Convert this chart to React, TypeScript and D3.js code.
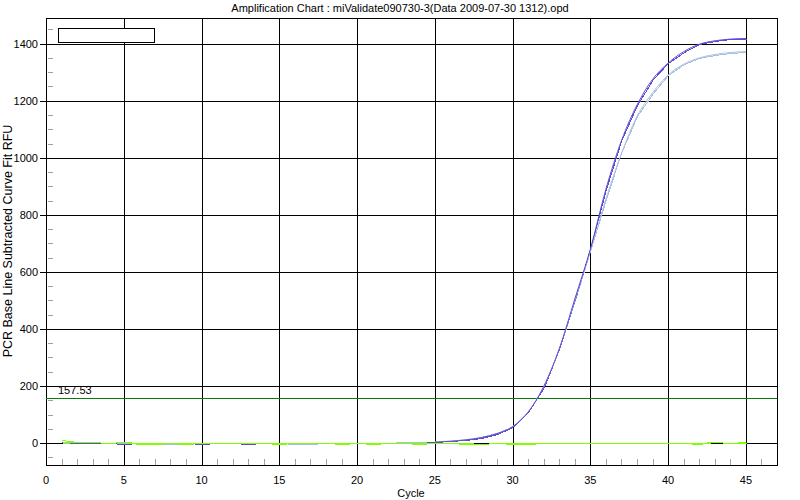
import React from "react";
import * as d3 from "d3";

const title = "Amplification Chart : miValidate090730-3(Data 2009-07-30 1312).opd";
const xLabel = "Cycle";
const yLabel = "PCR Base Line Subtracted Curve Fit RFU";
const thresholdValue = 157.53;

const cycles = d3.range(1, 46);
const xTicks = [0, 5, 10, 15, 20, 25, 30, 35, 40, 45];
const yTicks = [0, 200, 400, 600, 800, 1000, 1200, 1400];

// amplification curves
const wellDark = [4, 0, 0, 0, -4, 0, 0, 0, 0, -5, 0, 0, -4, 0, 0, 0, 0, 0, 0, 0, 0, 0, 0, 1, 3, 6, 11, 19, 33, 57, 108, 198, 330, 505, 680, 890, 1060, 1185, 1275, 1332, 1372, 1398, 1410, 1416, 1418];
const wellLight = [0, 0, 0, 0, 0, 0, -2, -2, -2, 0, 0, 0, 0, 0, 0, -2, -2, 0, 0, 0, -2, 0, 2, 2, 4, 7, 12, 20, 34, 58, 110, 198, 330, 500, 672, 855, 1015, 1145, 1228, 1290, 1328, 1350, 1362, 1369, 1372];
// baseline wells
const wellGreenA = [9, 3, 2, 1, 3, 0, 0, 0, 0, 0, 0, 0, 0, 0, -4, 0, 0, 0, -4, 0, -4, 0, 0, -3, 0, 0, 0, -3, 0, -3, -3, 0, 0, 0, 0, 0, 0, 0, 0, 0, 0, -3, 3, 0, 4];
const wellGreenB = [3, 3, 2, 0, 3, -2, -2, 0, -2, 0, 0, 0, 0, 0, 0, 0, 0, 0, 0, 0, 0, 0, 0, 0, 0, 0, -3, -3, 0, 0, 0, 0, 0, 0, 0, 0, 0, 0, 0, 0, 0, 0, 3, 0, 0];
const wellBlack = [0, 0, 0, 0, 0, 0, 0, 0, 0, 0, 0, 0, 0, 0, 0, 0, 0, 0, 0, 0, 0, 0, 0, 0, 0, 0, -2, 0, 0, 0, -1, 0, 0, 0, 0, 0, 0, 0, 0, 0, 0, 0, 2, 0, 0];

const wells = [
  { name: "black", values: wellBlack, color: "#000000" },
  { name: "greenB", values: wellGreenB, color: "#80ff00" },
  { name: "light", values: wellLight, color: "#a9bfe2" },
  { name: "dark", values: wellDark, color: "#5e4ad2" },
  { name: "greenA", values: wellGreenA, color: "#80ff00" },
];

const W = 800;
const H = 500;
const left = 46;
const right = 777;
const top = 18;
const bottom = 465;
const riseStart = 24;

export default function App() {
  const x = d3.scaleLinear().domain([0, 47]).range([left, right]);
  const y = d3.scaleLinear().domain([-77, 1490]).range([bottom, top]);
  const px = (v: number) => Math.round(v) + 0.5;
  const baseLine = d3
    .line<number>()
    .x((_, i) => px(x(cycles[i])))
    .y((d) => px(y(d)));
  const riseLine = d3
    .line<number>()
    .x((_, i) => x(cycles[i + riseStart]))
    .y((d) => y(d))
    .curve(d3.curveMonotoneX);
  const font = "'Liberation Sans', Arial, sans-serif";
  const xMinor = d3.range(1, 47).filter((c) => c % 5 !== 0);
  const yMinor = d3.range(-50, 1490, 50).filter((v) => v % 200 !== 0);

  const order = ["black", "light", "dark", "greenB", "greenA"];
  const sorted = order.map((n) => wells.find((w) => w.name === n)!);
  const rising = sorted.filter((w) => w.name === "light" || w.name === "dark");

  return (
    <svg width={W} height={H} style={{ position: "absolute", left: 0, top: 0, background: "#fff" }} fontFamily={font}>
      <rect x={0} y={0} width={W} height={H} fill="#fff" />
      <text x={400} y={12} fontSize={11} textAnchor="middle" fill="#000">{title}</text>
      {/* minor ticks */}
      {xMinor.map((c) => (
        <line key={"xm" + c} x1={px(x(c))} x2={px(x(c))} y1={bottom - 6} y2={bottom} stroke="#a0a0a0" shapeRendering="crispEdges" />
      ))}
      {yMinor.map((v) => (
        <line key={"ym" + v} x1={left + 2} x2={left + 7} y1={px(y(v))} y2={px(y(v))} stroke="#a0a0a0" shapeRendering="crispEdges" />
      ))}
      {/* grid */}
      {xTicks.filter((t) => t > 0).map((t) => (
        <line key={"xg" + t} x1={px(x(t))} x2={px(x(t))} y1={top} y2={bottom} stroke="#000" shapeRendering="crispEdges" />
      ))}
      {yTicks.map((t) => (
        <line key={"yg" + t} x1={left - 6} x2={right} y1={px(y(t))} y2={px(y(t))} stroke="#000" shapeRendering="crispEdges" />
      ))}
      {/* frame */}
      <rect x={left + 0.5} y={top + 0.5} width={right - left} height={bottom - top} fill="none" stroke="#000" shapeRendering="crispEdges" />
      {/* tick labels */}
      {yTicks.map((t) => (
        <text key={"yl" + t} x={38} y={y(t)} dy="0.35em" fontSize={11} textAnchor="end" fill="#000">{t}</text>
      ))}
      {xTicks.map((t) => (
        <text key={"xl" + t} x={x(t)} y={484} fontSize={11} textAnchor="middle" fill="#000">{t}</text>
      ))}
      <text x={411} y={497} fontSize={11} textAnchor="middle" fill="#000">{xLabel}</text>
      <text transform={`translate(12,${241}) rotate(-90)`} fontSize={12.5} textAnchor="middle" fill="#000">{yLabel}</text>
      {/* threshold */}
      <line x1={left} x2={right} y1={px(y(thresholdValue))} y2={px(y(thresholdValue))} stroke="#008000" shapeRendering="crispEdges" />
      <text x={58} y={y(thresholdValue) - 4} fontSize={11} fill="#000">{thresholdValue.toFixed(2)}</text>
      {/* wells */}
      {sorted.map((w) => (
        <path key={w.name} d={baseLine(w.values) || ""} fill="none" stroke={w.color} strokeWidth={1} shapeRendering="crispEdges" />
      ))}
      {/* rising parts drawn on top */}
      {rising.map((w) => (
        <path key={w.name + "top"} d={riseLine(w.values.slice(riseStart)) || ""} fill="none" stroke={w.color} strokeWidth={1} />
      ))}
      {/* legend box */}
      <rect x={58.5} y={28.5} width={96} height={14} fill="#fff" stroke="#000" shapeRendering="crispEdges" />
    </svg>
  );
}
